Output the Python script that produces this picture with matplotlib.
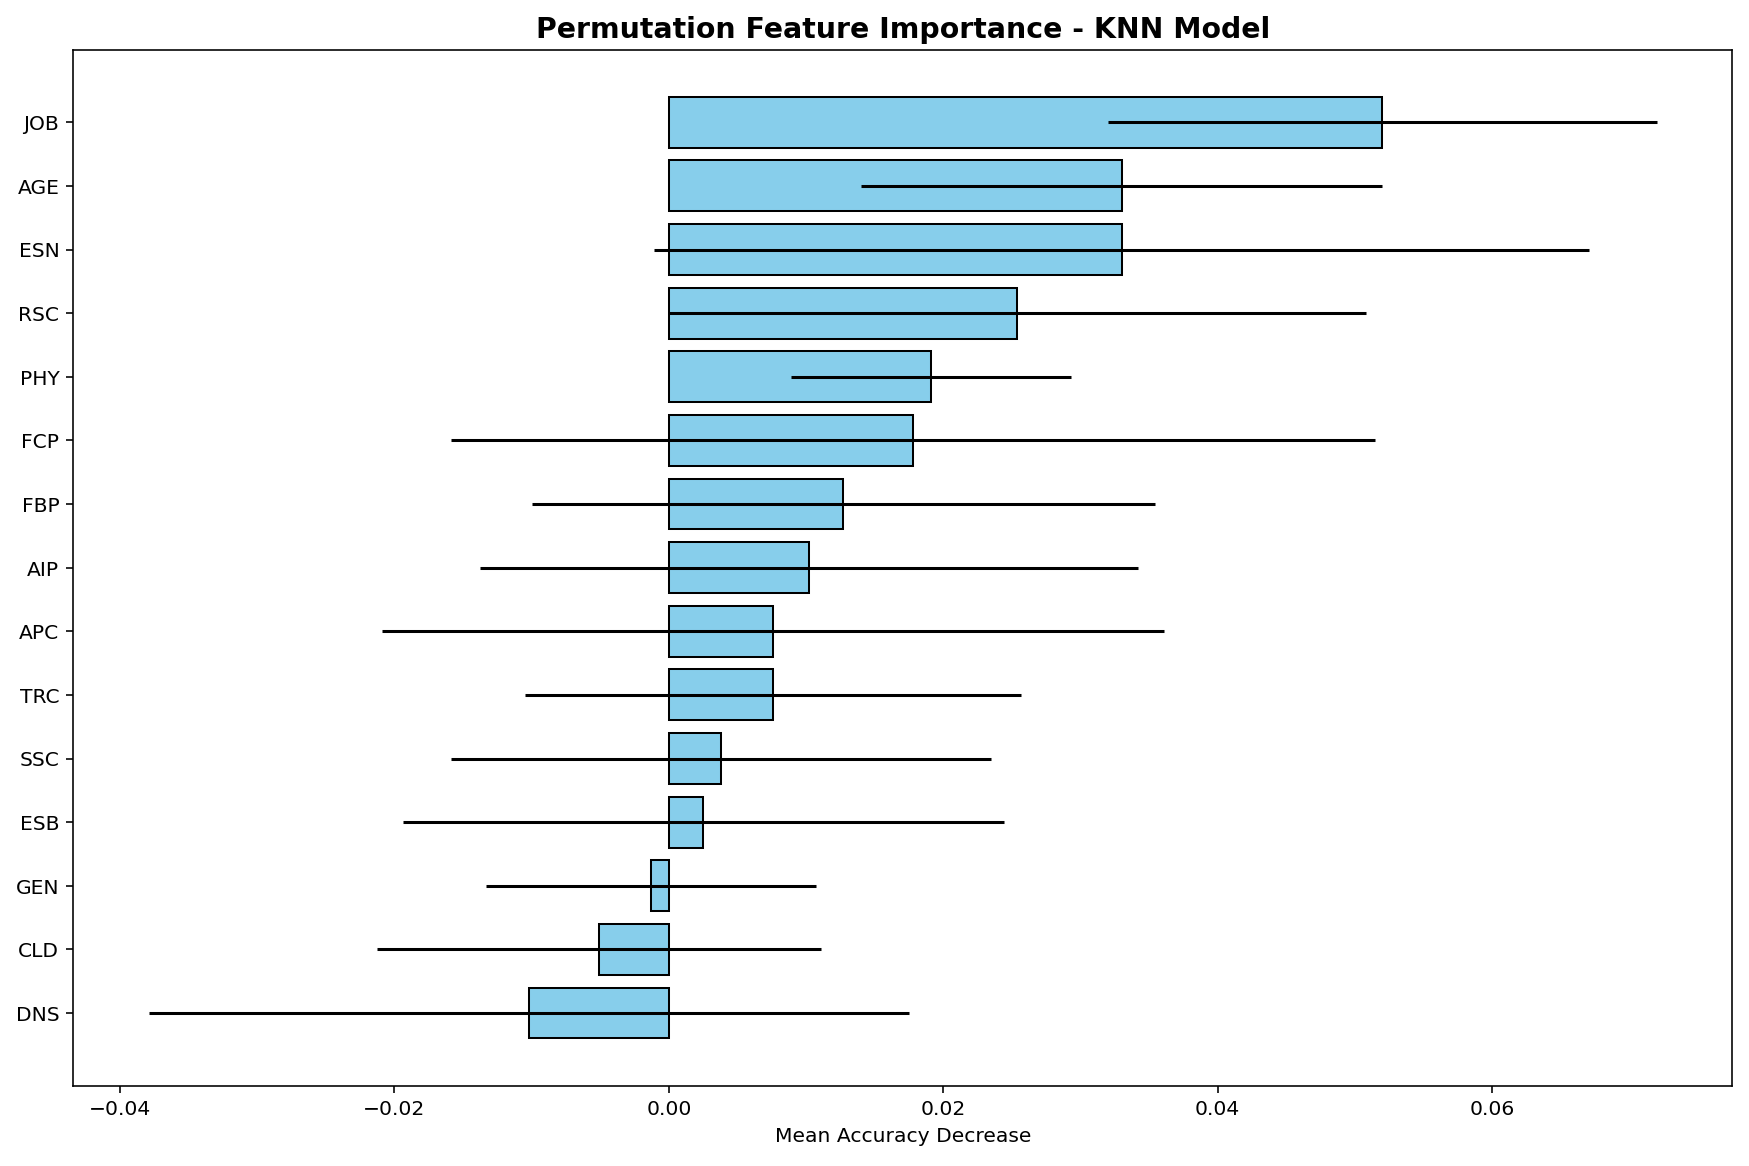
import numpy as np
import matplotlib.pyplot as plt

# features, top of chart first
features = ['JOB', 'AGE', 'ESN', 'RSC', 'PHY', 'FCP', 'FBP', 'AIP',
            'APC', 'TRC', 'SSC', 'ESB', 'GEN', 'CLD', 'DNS']
importance_mean = [0.0520, 0.0330, 0.0330, 0.0254, 0.0191, 0.0178, 0.0127, 0.0102,
                   0.0076, 0.0076, 0.0038, 0.0025, -0.0013, -0.0051, -0.0102]
importance_std = [0.0200, 0.0190, 0.0341, 0.0254, 0.0102, 0.0337, 0.0227, 0.0240,
                  0.0285, 0.0181, 0.0197, 0.0219, 0.0120, 0.0162, 0.0277]

# barh draws from the bottom up, so reverse
labels = features[::-1]
means = np.array(importance_mean[::-1])
stds = np.array(importance_std[::-1])
y = np.arange(len(labels))

fig, ax = plt.subplots(figsize=(12, 8), dpi=145.8)
ax.barh(y, means, xerr=stds, color='skyblue', edgecolor='black')
ax.set_yticks(y)
ax.set_yticklabels(labels)
ax.set_xlabel('Mean Accuracy Decrease')
ax.set_title('Permutation Feature Importance - KNN Model', fontsize=14, fontweight='bold')

plt.subplots_adjust(left=0.042, right=0.990, top=0.957, bottom=0.069)
plt.savefig('out.png')
